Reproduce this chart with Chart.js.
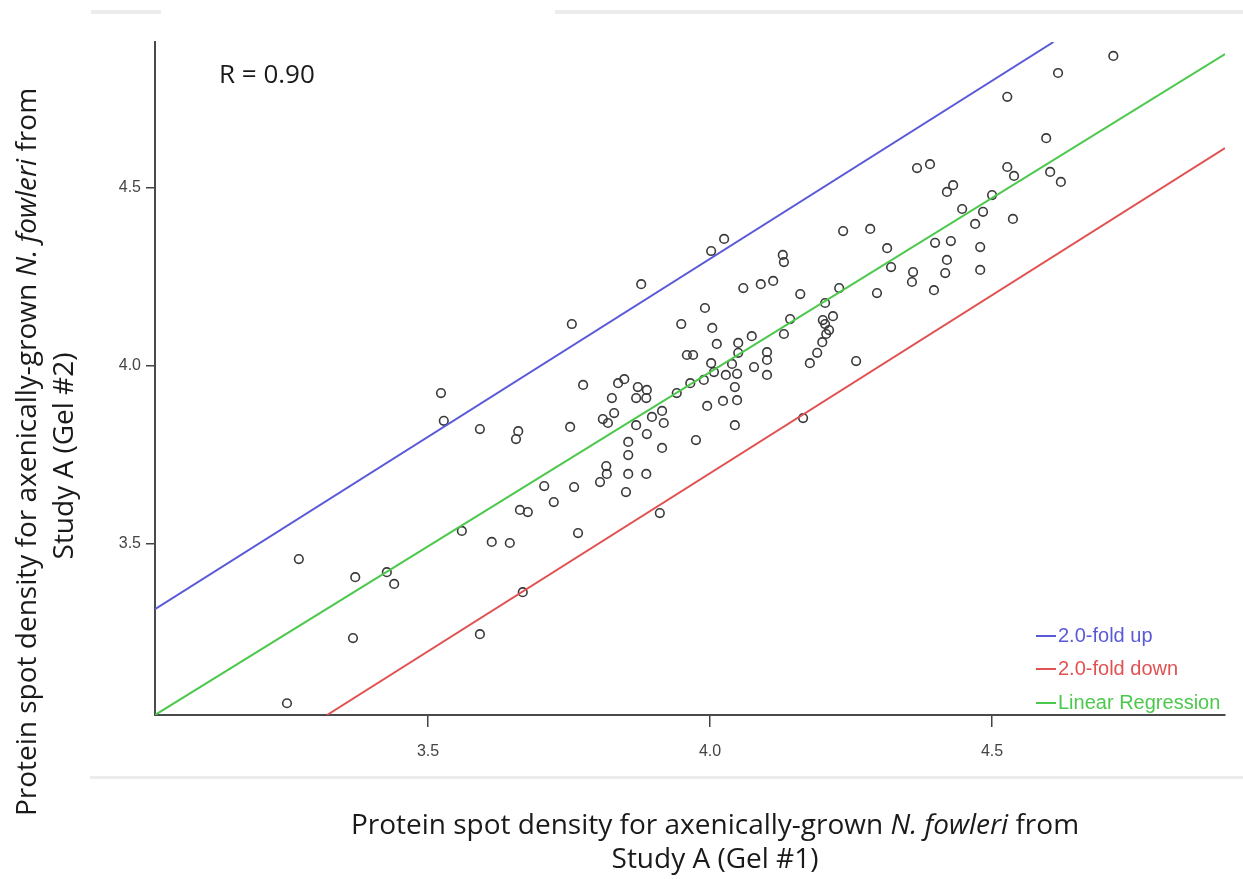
<!DOCTYPE html>
<html>
<head>
<meta charset="utf-8">
<script src="https://cdn.jsdelivr.net/npm/chart.js@4/dist/chart.umd.min.js"></script>
<style>
  html, body { margin: 0; padding: 0; background: #ffffff; }
  #wrap { width: 1243px; height: 879px; position: relative; }
</style>
</head>
<body>
<div id="wrap"><canvas id="c" width="1243" height="879"></canvas></div>
<script>
// ---- Data (log10 spot densities) ----
const gel1Density = [
  3.250, 3.271, 3.367, 3.371, 3.427, 3.440, 3.523, 3.528, 3.560, 3.592,
  3.592, 3.613, 3.645, 3.660, 3.656, 3.663, 3.668, 3.677, 3.706, 3.723,
  3.752, 3.755, 3.759, 3.766, 3.775, 3.805, 3.810, 3.816, 3.817, 3.819,
  3.826, 3.830, 3.837, 3.848, 3.851, 3.855, 3.855, 3.855, 3.869, 3.869,
  3.872, 3.878, 3.887, 3.887, 3.888, 3.888, 3.897, 3.911, 3.915, 3.915,
  3.918, 3.941, 3.949, 3.959, 3.970, 3.965, 3.975, 3.989, 3.991, 3.995,
  4.002, 4.004, 4.002, 4.007, 4.012, 4.023, 4.025, 4.028, 4.039, 4.044,
  4.044, 4.048, 4.050, 4.050, 4.048, 4.059, 4.074, 4.078, 4.090, 4.101,
  4.101, 4.101, 4.112, 4.129, 4.131, 4.131, 4.142, 4.160, 4.165, 4.177,
  4.190, 4.200, 4.204, 4.211, 4.218, 4.206, 4.199, 4.204, 4.229, 4.236,
  4.259, 4.284, 4.296, 4.314, 4.321, 4.360, 4.358, 4.367, 4.390, 4.397,
  4.399, 4.420, 4.417, 4.427, 4.420, 4.431, 4.447, 4.470, 4.479, 4.479,
  4.484, 4.500, 4.527, 4.527, 4.539, 4.537, 4.596, 4.603, 4.617, 4.622,
  4.715
];
const gel2Density = [
  3.053, 3.458, 3.236, 3.407, 3.421, 3.388, 3.924, 3.846, 3.537, 3.823,
  3.247, 3.506, 3.503, 3.817, 3.795, 3.596, 3.365, 3.590, 3.663, 3.618,
  3.829, 4.118, 3.660, 3.531, 3.947, 3.674, 3.851, 3.719, 3.697, 3.840,
  3.910, 3.868, 3.952, 3.963, 3.646, 3.787, 3.750, 3.697, 3.910, 3.834,
  3.941, 4.230, 3.910, 3.697, 3.933, 3.809, 3.857, 3.587, 3.874, 3.770,
  3.840, 3.924, 4.118, 4.031, 4.031, 3.952, 3.792, 3.961, 4.163, 3.888,
  4.323, 4.107, 4.008, 3.983, 4.062, 3.902, 4.357, 3.975, 4.006, 3.941,
  3.834, 3.978, 4.065, 4.037, 3.904, 4.219, 4.084, 3.997, 4.230, 4.039,
  4.017, 3.975, 4.239, 4.312, 4.292, 4.090, 4.132, 4.202, 3.854, 4.008,
  4.037, 4.129, 4.118, 4.101, 4.140, 4.090, 4.067, 4.177, 4.219, 4.379,
  4.014, 4.385, 4.205, 4.331, 4.278, 4.264, 4.236, 4.556, 4.567, 4.213,
  4.346, 4.298, 4.261, 4.351, 4.489, 4.508, 4.441, 4.399, 4.334, 4.270,
  4.433, 4.480, 4.756, 4.559, 4.534, 4.413, 4.640, 4.545, 4.823, 4.517,
  4.871
];
// Reference lines (end points)
const foldUpX   = [3.016, 4.609];
const foldUpY   = [3.317, 4.910];
const foldDownX = [3.321, 4.913];
const foldDownY = [3.020, 4.612];
const regressX  = [3.016, 4.913];
const regressY  = [3.020, 4.876];
// Axis extents and ticks
const xRange = [3.016, 4.913];
const yRange = [3.020, 4.910];
const xTicks = [3.5, 4.0, 4.5];
const yTicks = [3.5, 4.0, 4.5];
const legendLabels = ['2.0-fold up', '2.0-fold down', 'Linear Regression'];
const rLabel = 'R = 0.90';
const xTitle1 = [['Protein spot density for axenically-grown ', false], ['N. fowleri', true], [' from', false]];
const xTitle2 = 'Study A (Gel #1)';
const yTitle1 = [['Protein spot density for axenically-grown ', false], ['N. fowleri', true], [' from', false]];
const yTitle2 = 'Study A (Gel #2)';

const BLUE = '#5a5ad8', RED = '#e05252', GREEN = '#4cc84c';

function pairs(xs, ys) { return xs.map((x, i) => ({ x: x, y: ys[i] })); }

const TITLE_FONT = '"Open Sans", "Noto Sans", sans-serif';

function drawRich(ctx, parts, cx, cy, size) {
  let total = 0;
  const widths = parts.map(p => {
    ctx.font = (p[1] ? 'italic ' : '') + size + 'px ' + TITLE_FONT;
    const w = ctx.measureText(p[0]).width; total += w; return w;
  });
  let x = cx - total / 2;
  ctx.textAlign = 'left';
  ctx.textBaseline = 'middle';
  parts.forEach((p, i) => {
    ctx.font = (p[1] ? 'italic ' : '') + size + 'px ' + TITLE_FONT;
    ctx.fillText(p[0], x, cy);
    x += widths[i];
  });
}

const decor = {
  id: 'decor',
  beforeDraw(chart) {
    const ctx = chart.ctx;
    ctx.save();
    ctx.fillStyle = '#ffffff';
    ctx.fillRect(0, 0, chart.width, chart.height);
    ctx.fillStyle = '#ececec';
    ctx.fillRect(91, 10, 70, 4);
    ctx.fillRect(555, 10, 688, 4);
    ctx.fillRect(90, 776, 1153, 3);
    ctx.restore();
  },
  afterDraw(chart) {
    const ctx = chart.ctx;
    ctx.save();
    ctx.fillStyle = '#1a1a1a';
    // R label
    ctx.font = '26px ' + TITLE_FONT;
    ctx.textAlign = 'left';
    ctx.textBaseline = 'middle';
    ctx.fillText(rLabel, 219, 76);
    // X title
    drawRich(ctx, xTitle1, 715, 826, 28);
    drawRich(ctx, [[xTitle2, false]], 715, 860, 28);
    // Y title
    ctx.save();
    ctx.translate(28, 452);
    ctx.rotate(-Math.PI / 2);
    drawRich(ctx, yTitle1, 0, 0, 28);
    ctx.restore();
    ctx.save();
    ctx.translate(65, 456);
    ctx.rotate(-Math.PI / 2);
    drawRich(ctx, [[yTitle2, false]], 0, 0, 28);
    ctx.restore();
    // Legend
    const cols = [BLUE, RED, GREEN];
    const rowsY = [636, 669, 703];
    ctx.font = '20px "Liberation Sans", Arial, sans-serif';
    ctx.textBaseline = 'middle';
    legendLabels.forEach((lab, i) => {
      ctx.strokeStyle = cols[i];
      ctx.lineWidth = 2;
      ctx.beginPath();
      ctx.moveTo(1036, rowsY[i]);
      ctx.lineTo(1056, rowsY[i]);
      ctx.stroke();
      ctx.fillStyle = cols[i];
      ctx.fillText(lab, 1058, rowsY[i]);
    });
    ctx.restore();
  }
};

new Chart(document.getElementById('c'), {
  type: 'scatter',
  data: {
    datasets: [
      { type: 'line', label: legendLabels[0], data: pairs(foldUpX, foldUpY), borderColor: BLUE, borderWidth: 2, pointRadius: 0, fill: false },
      { type: 'line', label: legendLabels[1], data: pairs(foldDownX, foldDownY), borderColor: RED, borderWidth: 2, pointRadius: 0, fill: false },
      { type: 'line', label: legendLabels[2], data: pairs(regressX, regressY), borderColor: GREEN, borderWidth: 2, pointRadius: 0, fill: false },
      { label: 'spots', data: pairs(gel1Density, gel2Density), pointStyle: 'circle', pointRadius: 4.3, pointBorderWidth: 1.6, borderColor: '#3a3a3a', backgroundColor: 'rgba(255,255,255,0)' }
    ]
  },
  options: {
    responsive: false,
    animation: false,
    devicePixelRatio: 1,
    layout: { padding: { top: 42, right: 18, left: 0, bottom: 0 } },
    plugins: { legend: { display: false }, tooltip: { enabled: false } },
    scales: {
      x: {
        type: 'linear', min: xRange[0], max: xRange[1],
        afterBuildTicks(s) { s.ticks = xTicks.map(v => ({ value: v })); },
        afterFit(s) { s.height = 164; },
        grid: { display: true, drawOnChartArea: false, drawTicks: true, tickLength: 12, color: '#444', lineWidth: 1.5 },
        border: { display: true, color: '#4a4a4a', width: 2 },
        ticks: { padding: 15, color: '#444', font: { family: '"Liberation Sans", Arial, sans-serif', size: 16 }, callback: v => Number(v).toFixed(1), maxRotation: 0 }
      },
      y: {
        type: 'linear', min: yRange[0], max: yRange[1],
        afterBuildTicks(s) { s.ticks = yTicks.map(v => ({ value: v })); },
        afterFit(s) { s.width = 155; },
        grid: { display: true, drawOnChartArea: false, drawTicks: true, tickLength: 9, color: '#444', lineWidth: 1.5 },
        border: { display: true, color: '#4a4a4a', width: 2 },
        ticks: { padding: 5, color: '#444', font: { family: '"Liberation Sans", Arial, sans-serif', size: 16 }, callback: v => Number(v).toFixed(1) }
      }
    }
  },
  plugins: [decor]
});
</script>
</body>
</html>
